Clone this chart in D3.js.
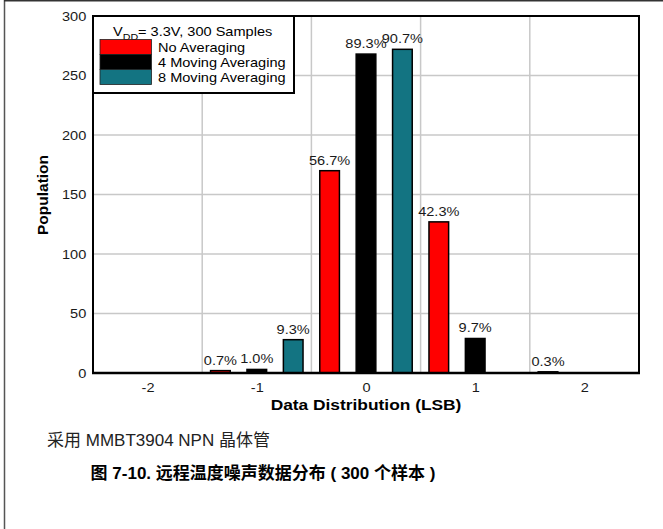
<!DOCTYPE html>
<html>
<head>
<meta charset="utf-8">
<script src="https://cdn.jsdelivr.net/npm/d3@7"></script>
<style>
  html, body { margin: 0; padding: 0; background: #fff; }
  svg { display: block; }
</style>
</head>
<body>
<script>
// ---- data ----
const groups      = [-1, 0, 1, 2];
const noAvg       = [2, 170, 127, 1];
const avg4        = [3, 268, 29, 0];
const avg8        = [28, 272, 0, 0];
const noAvgPct    = ["0.7%", "56.7%", "42.3%", "0.3%"];
const avg4Pct     = ["1.0%", "89.3%", "9.7%", ""];
const avg8Pct     = ["9.3%", "90.7%", "", ""];
const seriesNames = ["No Averaging", "4 Moving Averaging", "8 Moving Averaging"];
const seriesColors = ["#ff0000", "#000000", "#137482"];
const xTickValues = [-2, -1, 0, 1, 2];
const xGridValues = [-1.5, -0.5, 0.5, 1.5];
const yTickValues = [0, 50, 100, 150, 200, 250, 300];

const W = 663, H = 529;
const FONT = "'Liberation Sans', Arial, 'Noto Sans CJK SC', sans-serif";
const SX = 1.12;

const svg = d3.select("body").append("svg").attr("width", W).attr("height", H);

// outer frame (top and left)
svg.append("line").attr("x1", 4.5).attr("y1", 0).attr("x2", 4.5).attr("y2", H)
  .attr("stroke", "#555").attr("stroke-width", 1.5);
svg.append("line").attr("x1", 4).attr("y1", 0.75).attr("x2", W).attr("y2", 0.75)
  .attr("stroke", "#333").attr("stroke-width", 1.5);

const L = 93, R = 639, T = 16, B = 373;
const x = d3.scaleLinear().domain([-2.5, 2.5]).range([L, R]);
const y = d3.scaleLinear().domain([0, 300]).range([B, T]);

// grid
const grid = svg.append("g");
grid.selectAll("line.v").data(xGridValues).join("line")
  .attr("x1", d => x(d)).attr("x2", d => x(d)).attr("y1", T).attr("y2", B)
  .attr("stroke", "#c8c8c8").attr("stroke-width", 1.5);
grid.selectAll("line.h").data(yTickValues.slice(1, -1)).join("line")
  .attr("x1", L).attr("x2", R).attr("y1", d => y(d)).attr("y2", d => y(d))
  .attr("stroke", "#c8c8c8").attr("stroke-width", 1.5);

// bars
const series = [noAvg, avg4, avg8];
const pcts = [noAvgPct, avg4Pct, avg8Pct];
const offsets = [-1 / 3, 0, 1 / 3];
const bw = x(0.18) - x(0);
series.forEach((vals, si) => {
  const data = groups.map((g, i) => ({ g, v: vals[i], p: pcts[si][i] })).filter(d => d.v > 0);
  const gS = svg.append("g");
  gS.selectAll("rect").data(data).join("rect")
    .attr("x", d => x(d.g + offsets[si]) - bw / 2)
    .attr("y", d => y(d.v))
    .attr("width", bw)
    .attr("height", d => y(0) - y(d.v))
    .attr("fill", seriesColors[si])
    .attr("stroke", "#000").attr("stroke-width", 1.5);
  gS.selectAll("text").data(data.filter(d => d.p)).join("text")
    .attr("transform", d => `translate(${x(d.g + offsets[si])},${y(d.v) - 6}) scale(${SX},1)`)
    .attr("text-anchor", "middle")
    .attr("font-family", FONT).attr("font-size", 13).attr("fill", "#1a1a1a")
    .text(d => d.p);
});

// plot frame
svg.append("rect").attr("x", L).attr("y", T).attr("width", R - L).attr("height", B - T)
  .attr("fill", "none").attr("stroke", "#000").attr("stroke-width", 2);
svg.append("line").attr("x1", L - 1).attr("x2", R + 1).attr("y1", B).attr("y2", B)
  .attr("stroke", "#000").attr("stroke-width", 2.5);

// axes
const yAxis = svg.append("g").attr("transform", `translate(${L},0)`)
  .call(d3.axisLeft(y).tickValues(yTickValues).tickSize(0).tickPadding(6));
yAxis.select(".domain").remove();
yAxis.selectAll("text").attr("font-family", FONT).attr("font-size", 13).attr("fill", "#1a1a1a")
  .attr("dy", "0.34em").attr("transform", `scale(${SX},1)`);

const xAxis = svg.append("g").attr("transform", `translate(0,${B})`)
  .call(d3.axisBottom(x).tickValues(xTickValues).tickSize(0).tickPadding(10).tickFormat(d => String(d)));
xAxis.select(".domain").remove();
xAxis.selectAll("text").attr("font-family", FONT).attr("font-size", 13).attr("fill", "#1a1a1a")
  .attr("transform", `scale(${SX},1)`);

// axis titles
svg.append("text")
  .attr("transform", `translate(${(L + R) / 2},410) scale(${SX},1)`)
  .attr("text-anchor", "middle").attr("font-family", FONT).attr("font-size", 15.5)
  .attr("font-weight", "bold").attr("fill", "#000").text("Data Distribution (LSB)");
svg.append("text")
  .attr("transform", `translate(48,195) rotate(-90)`)
  .attr("text-anchor", "middle").attr("font-family", FONT).attr("font-size", 15.5)
  .attr("font-weight", "bold").attr("fill", "#000").text("Population");

// legend
const lg = svg.append("g");
lg.append("rect").attr("x", L).attr("y", T).attr("width", 201).attr("height", 77)
  .attr("fill", "#fff").attr("stroke", "#000").attr("stroke-width", 2);
const lt = lg.append("text")
  .attr("transform", `translate(113,36) scale(${SX},1)`)
  .attr("font-family", FONT).attr("font-size", 13).attr("fill", "#000");
lt.append("tspan").text("V");
lt.append("tspan").attr("font-size", 9.5).attr("dy", 3.5).text("DD");
lt.append("tspan").attr("dy", -3.5).text("= 3.3V, 300 Samples");
seriesNames.forEach((name, i) => {
  lg.append("rect").attr("x", 100).attr("y", 39.5 + i * 15).attr("width", 51.5).attr("height", 15)
    .attr("fill", seriesColors[i]).attr("stroke", "#222").attr("stroke-width", 0.8);
  lg.append("text")
    .attr("transform", `translate(158,${51.7 + i * 15}) scale(${SX},1)`)
    .attr("font-family", FONT).attr("font-size", 13).attr("fill", "#000").text(name);
});

// caption and figure title
svg.append("text").attr("x", 47).attr("y", 446)
  .attr("font-family", FONT).attr("font-size", 17).attr("fill", "#222")
  .text("采用 MMBT3904 NPN 晶体管");
svg.append("text").attr("x", 263).attr("y", 479).attr("text-anchor", "middle")
  .attr("font-family", FONT).attr("font-size", 17).attr("font-weight", "bold").attr("fill", "#000")
  .text("图 7-10. 远程温度噪声数据分布 ( 300 个样本 )");
</script>
</body>
</html>
